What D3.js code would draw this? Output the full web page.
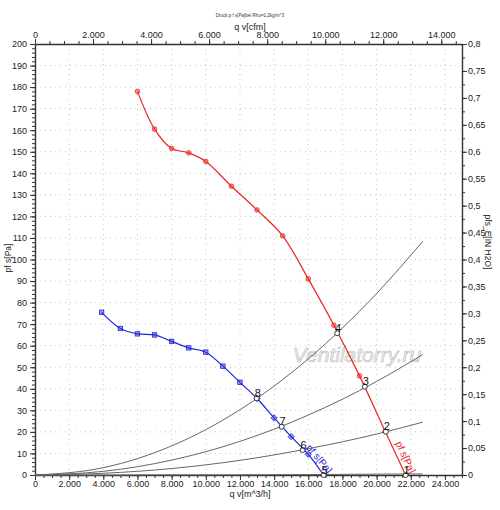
<!DOCTYPE html>
<html>
<head>
<meta charset="utf-8">
<script src="https://cdn.jsdelivr.net/npm/d3@7"></script>
<style>
  body { margin: 0; background: #fff; }
  svg text { font-family: "Liberation Sans", Arial, sans-serif; }
  .axis path, .axis line { stroke: #333; }
  .axis text { fill: #222; font-size: 9px; }
</style>
</head>
<body>
<div id="chart"></div>
<script>
const w = 500, h = 510
const margin = { left: 35, right: 38, top: 44, bottom: 35 }

// red curve (upper)
const redQ = [6000, 7000, 8000, 9000, 10000, 11500, 13000, 14500, 16000, 17500, 19000, 20500, 21700]
const redP = [178, 160.5, 151.5, 149.5, 145.5, 134, 123, 111, 91, 69.5, 46, 20.3, 0]

// blue curve (lower)
const blueQ = [3900, 5000, 6000, 7000, 8000, 9000, 10000, 11000, 12000, 13000, 14000, 15000, 16000, 16900]
const blueP = [75.5, 68, 65.5, 65, 62, 59, 57, 50.5, 43, 35.5, 26.5, 17.8, 9.6, 0]

// system curves, read at these flows
const sysQ = [0, 4000, 8000, 12000, 16000, 20000, 22700]
const sysP = [
    [0, 3.4, 13.5, 30.3, 53.9, 84.2, 108.4],
    [0, 1.7, 6.9, 15.6, 27.8, 43.4, 55.9],
    [0, 0.8, 3.0, 6.8, 12.2, 19.0, 24.5],
    [0, 0, 0.1, 0.1, 0.2, 0.4, 0.5]
]

// operating points
const opLabels = ["1", "2", "3", "4", "5", "6", "7", "8"]
const opQ = [21700, 20540, 19310, 17690, 16900, 15670, 14440, 12980]
const opP = [0, 20.1, 41, 65.8, 0, 11.6, 22.4, 35.6]

const bottomTicks = [0, 2000, 4000, 6000, 8000, 10000, 12000, 14000, 16000, 18000, 20000, 22000, 24000]
const topTicks = [0, 2000, 4000, 6000, 8000, 10000, 12000, 14000]
const leftTicks = d3.range(0, 201, 10)
const rightTicks = [0, 0.05, 0.1, 0.15, 0.2, 0.25, 0.3, 0.35, 0.4, 0.45, 0.5, 0.55, 0.6, 0.65, 0.7, 0.75, 0.8]

const locale = d3.formatLocale({ decimal: ",", thousands: ".", grouping: [3], currency: ["", ""] })
const fmtK = locale.format(",")
const fmtR = locale.format(".2~f")

//scales
const x = d3.scaleLinear().domain([0, 25000]).range([margin.left, w - margin.right])
const xcfm = d3.scaleLinear().domain([0, 25000 / 1.699]).range([margin.left, w - margin.right])
const y = d3.scaleLinear().domain([0, 200]).range([h - margin.bottom, margin.top])
const yin = d3.scaleLinear().domain([0, 0.8]).range([h - margin.bottom, margin.top])

const svg = d3.select("#chart").append("svg")
    .attr("width", w)
    .attr("height", h)

// grid
svg.append("g").selectAll("line.vg")
    .data(bottomTicks.slice(1))
    .enter().append("line")
    .attr("x1", d => x(d)).attr("x2", d => x(d))
    .attr("y1", y(0)).attr("y2", y(200))
    .attr("stroke", "#c8c8c8").attr("stroke-dasharray", "1,4")

svg.append("g").selectAll("line.hg")
    .data(leftTicks.slice(1, -1))
    .enter().append("line")
    .attr("x1", x(0)).attr("x2", x(25000))
    .attr("y1", d => y(d)).attr("y2", d => y(d))
    .attr("stroke", "#c8c8c8").attr("stroke-dasharray", "1,4")

// watermark
svg.append("text")
    .attr("x", 357).attr("y", 362)
    .attr("text-anchor", "middle")
    .attr("font-size", 21)
    .attr("font-style", "italic")
    .attr("fill", "#eeeeee")
    .attr("stroke", "#bdbdbd")
    .attr("stroke-width", 0.6)
    .text("Ventilatorry.ru")

// axes: minor ticks first, then major
function minor(axis, g, ticks) {
    g.call(axis.tickValues(ticks).tickSize(3).tickFormat(""))
    g.select(".domain").remove()
}
const gb = svg.append("g").attr("class", "axis").attr("transform", "translate(0," + y(0) + ")")
minor(d3.axisBottom(x), gb.append("g"), d3.range(0, 25001, 500))
gb.append("g").call(d3.axisBottom(x).tickValues(bottomTicks).tickSize(5).tickSizeOuter(0).tickFormat(fmtK))
gb.selectAll("text").attr("y", 5).attr("dy", "0.75em")

const gt = svg.append("g").attr("class", "axis").attr("transform", "translate(0," + y(200) + ")")
minor(d3.axisTop(xcfm), gt.append("g"), d3.range(0, 14701, 500))
gt.append("g").call(d3.axisTop(xcfm).tickValues(topTicks).tickSize(5).tickSizeOuter(0).tickFormat(fmtK))
gt.selectAll("text").attr("y", -6).attr("dy", 0)

const gl = svg.append("g").attr("class", "axis").attr("transform", "translate(" + x(0) + ",0)")
minor(d3.axisLeft(y), gl.append("g"), d3.range(0, 201, 2))
gl.append("g").call(d3.axisLeft(y).tickValues(leftTicks).tickSize(5).tickSizeOuter(0))

const gr = svg.append("g").attr("class", "axis").attr("transform", "translate(" + x(25000) + ",0)")
minor(d3.axisRight(yin), gr.append("g"), d3.range(0, 0.801, 0.025))
gr.append("g").call(d3.axisRight(yin).tickValues(rightTicks).tickSize(5).tickSizeOuter(0).tickFormat(fmtR))
gr.selectAll("text").attr("x", 6).attr("font-size", 8.5)

svg.selectAll(".axis .domain").attr("stroke-width", 1.4)

// axis titles
svg.append("text").attr("x", 250).attr("y", 17).attr("text-anchor", "middle")
    .attr("font-size", 4.5).attr("fill", "#333").text("Druck p f s[Pa]bei Rho=1,2kg/m^3")
svg.append("text").attr("x", 250).attr("y", 30).attr("text-anchor", "middle")
    .attr("font-size", 9).attr("fill", "#222").text("q v[cfm]")
svg.append("text").attr("x", 250).attr("y", 497).attr("text-anchor", "middle")
    .attr("font-size", 9).attr("fill", "#222").text("q v[m^3/h]")
svg.append("text").attr("transform", "translate(11,258) rotate(-90)").attr("text-anchor", "middle")
    .attr("font-size", 8.5).attr("fill", "#222").text("pf s[Pa]")
svg.append("text").attr("transform", "translate(485,242) rotate(90)").attr("text-anchor", "middle")
    .attr("font-size", 8.5).attr("fill", "#222").text("pfs_E[IN H2O]")

// system curves
const line = d3.line().x(d => x(d[0])).y(d => y(d[1])).curve(d3.curveMonotoneX)
sysP.forEach(ps => {
    svg.append("path")
        .attr("d", line(sysQ.map((q, i) => [q, ps[i]])))
        .attr("fill", "none").attr("stroke", "#666").attr("stroke-width", 1)
})

// fan curves
const fanLine = d3.line().x(d => x(d[0])).y(d => y(d[1])).curve(d3.curveCatmullRom.alpha(0.5))

function drawFan(qs, ps, color, shape) {
    const pts = qs.map((q, i) => [q, ps[i]])
    svg.append("path")
        .attr("d", fanLine(pts))
        .attr("fill", "none").attr("stroke", color).attr("stroke-width", 1.2)

    const marks = pts.slice(0, -1)
    if (shape === "circle") {
        svg.selectAll(null).data(marks).enter().append("circle")
            .attr("cx", d => x(d[0])).attr("cy", d => y(d[1])).attr("r", 2.3)
            .attr("fill", color).attr("fill-opacity", 0.45)
            .attr("stroke", color).attr("stroke-width", 0.8)
    } else {
        svg.selectAll(null).data(marks).enter().append("rect")
            .attr("x", -2.2).attr("y", -2.2).attr("width", 4.4).attr("height", 4.4)
            .attr("transform", d => "translate(" + x(d[0]) + "," + y(d[1]) + ")" + (d[0] > 12500 ? " rotate(45)" : ""))
            .attr("fill", color).attr("fill-opacity", 0.45)
            .attr("stroke", color).attr("stroke-width", 0.8)
    }

    // label along the last segment
    const a = pts[pts.length - 3], b = pts[pts.length - 1]
    const ang = Math.atan2(y(b[1]) - y(a[1]), x(b[0]) - x(a[0])) * 180 / Math.PI
    svg.append("text")
        .attr("transform", "translate(" + (x(b[0]) + 4) + "," + (y(0) - 1) + ") rotate(" + ang + ")")
        .attr("text-anchor", "end")
        .attr("font-size", 10)
        .attr("fill", color)
        .text("pf s[Pa]")
}
drawFan(redQ, redP, "#e8261f", "circle")
drawFan(blueQ, blueP, "#1f26d8", "square")

// operating points
svg.selectAll("circle.op").data(opQ).enter().append("circle")
    .attr("class", "op")
    .attr("cx", d => x(d)).attr("cy", (d, i) => y(opP[i])).attr("r", 2.5)
    .attr("fill", "#fff").attr("stroke", "#222").attr("stroke-width", 0.9)

svg.selectAll("text.op").data(opQ).enter().append("text")
    .attr("class", "op")
    .attr("x", d => x(d) + 1).attr("y", (d, i) => y(opP[i]) - 1.5)
    .attr("text-anchor", "middle")
    .attr("font-size", 11)
    .attr("fill", "#111")
    .text((d, i) => opLabels[i])
</script>
</body>
</html>
